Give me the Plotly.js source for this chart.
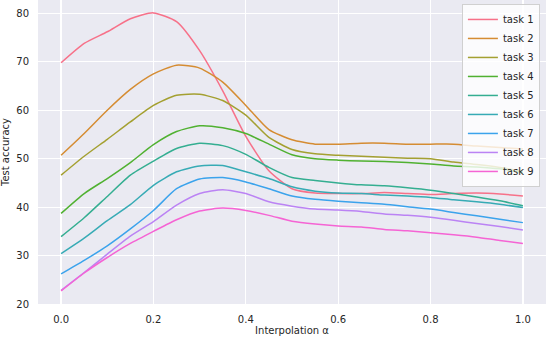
<!DOCTYPE html>
<html>
<head>
<meta charset="utf-8">
<script src="https://cdn.plot.ly/plotly-3.0.1.min.js"></script>
<style>
  html, body { margin: 0; padding: 0; background: #fff; }
  #accuracyChart { width: 546px; height: 340px; }
</style>
</head>
<body>
<div id="accuracyChart"></div>
<script>
// interpolation steps
var alphas = [0.0, 0.05, 0.1, 0.15, 0.2, 0.25, 0.3, 0.35, 0.4, 0.45, 0.5,
              0.55, 0.6, 0.65, 0.7, 0.75, 0.8, 0.85, 0.9, 0.95, 1.0];

var taskNames = ['task 1', 'task 2', 'task 3', 'task 4', 'task 5', 'task 6', 'task 7', 'task 8', 'task 9'];

var task1 = [69.8, 73.8, 76.2, 78.9, 80.1, 78.3, 72.3, 64.0, 54.6, 47.5, 43.8,
             42.9, 42.8, 42.8, 43.0, 42.8, 42.6, 42.8, 42.9, 42.7, 42.3];
var task2 = [50.7, 55.2, 60.0, 64.3, 67.5, 69.3, 68.7, 65.8, 61.0, 56.0, 53.9,
             53.0, 53.0, 53.2, 53.2, 53.0, 53.0, 53.0, 52.6, 52.3, 52.0];
var task3 = [46.6, 50.5, 54.0, 57.6, 61.0, 63.1, 63.3, 62.0, 59.0, 54.4, 51.9,
             51.0, 50.7, 50.5, 50.3, 50.1, 50.0, 49.3, 48.8, 48.2, 47.4];
var task4 = [38.7, 42.8, 45.9, 49.2, 52.9, 55.6, 56.8, 56.4, 55.2, 53.0, 50.8,
             50.0, 49.7, 49.5, 49.4, 49.2, 48.9, 48.5, 48.3, 47.9, 47.1];
var task5 = [33.9, 37.8, 42.2, 46.6, 49.5, 52.1, 53.2, 52.7, 50.9, 48.2, 46.1,
             45.5, 45.0, 44.6, 44.4, 44.0, 43.5, 42.8, 42.1, 41.3, 40.3];
var task6 = [30.4, 33.6, 37.2, 40.5, 44.5, 47.3, 48.5, 48.6, 47.3, 45.9, 44.2,
             43.3, 42.9, 42.8, 42.5, 42.3, 42.0, 41.5, 41.1, 40.6, 39.9];
var task7 = [26.2, 29.0, 32.0, 35.5, 39.3, 43.8, 45.8, 46.1, 45.2, 43.8, 42.3,
             41.6, 41.2, 40.9, 40.6, 40.1, 39.6, 38.9, 38.2, 37.5, 36.8];
var task8 = [22.8, 26.5, 30.3, 34.0, 37.0, 40.4, 42.8, 43.6, 42.8, 41.1, 40.2,
             39.6, 39.4, 39.1, 38.6, 38.3, 37.9, 37.3, 36.6, 36.0, 35.3];
var task9 = [22.7, 26.4, 29.6, 32.5, 35.0, 37.4, 39.2, 39.8, 39.3, 38.3, 37.1,
             36.5, 36.1, 35.9, 35.4, 35.1, 34.7, 34.3, 33.8, 33.1, 32.5];

var colors = ['#f77189', '#d58c32', '#a4a031', '#50b131', '#34ae91',
              '#37abb5', '#3ba3ec', '#bb83f4', '#f564d4'];

function plotInterpolation() {
    var series = [task1, task2, task3, task4, task5, task6, task7, task8, task9];
    var traces = series.map(function(values, i) {
        return {
            x: alphas,
            y: values,
            name: taskNames[i],
            type: 'scatter',
            mode: 'lines',
            line: { color: colors[i], width: 1.5, shape: 'spline', smoothing: 0.6 }
        };
    });

    var tickFont = { family: 'DejaVu Sans', size: 10, color: '#262626' };

    var layout = {
        width: 546,
        height: 340,
        margin: { l: 38, r: 0, t: 0, b: 36 },
        paper_bgcolor: '#ffffff',
        plot_bgcolor: '#eaeaf2',
        font: tickFont,
        showlegend: true,
        legend: {
            x: 0.988, y: 0.987,
            xanchor: 'right', yanchor: 'top',
            bgcolor: 'rgba(255,255,255,0.8)',
            bordercolor: '#d0d0d0',
            borderwidth: 1,
            font: { family: 'DejaVu Sans', size: 10, color: '#262626' }
        },
        xaxis: {
            range: [-0.05, 1.05],
            tickvals: [0, 0.2, 0.4, 0.6, 0.8, 1.0],
            tickformat: '.1f',
            showgrid: true,
            gridcolor: '#ffffff',
            gridwidth: 1.2,
            zeroline: false,
            showline: false,
            ticks: 'outside',
            ticklen: 6,
            tickcolor: 'rgba(0,0,0,0)',
            tickfont: tickFont,
            title: { text: 'Interpolation α', font: tickFont, standoff: 2 }
        },
        yaxis: {
            range: [20, 82.76],
            tickvals: [20, 30, 40, 50, 60, 70, 80],
            showgrid: true,
            gridcolor: '#ffffff',
            gridwidth: 1.2,
            zeroline: false,
            showline: false,
            ticks: 'outside',
            ticklen: 6,
            tickcolor: 'rgba(0,0,0,0)',
            tickfont: tickFont,
            title: { text: 'Test accuracy', font: tickFont, standoff: 6 }
        }
    };

    Plotly.newPlot('accuracyChart', traces, layout, { displayModeBar: false, staticPlot: true });
}

document.addEventListener("DOMContentLoaded", function() {
    plotInterpolation();
});
</script>
</body>
</html>
